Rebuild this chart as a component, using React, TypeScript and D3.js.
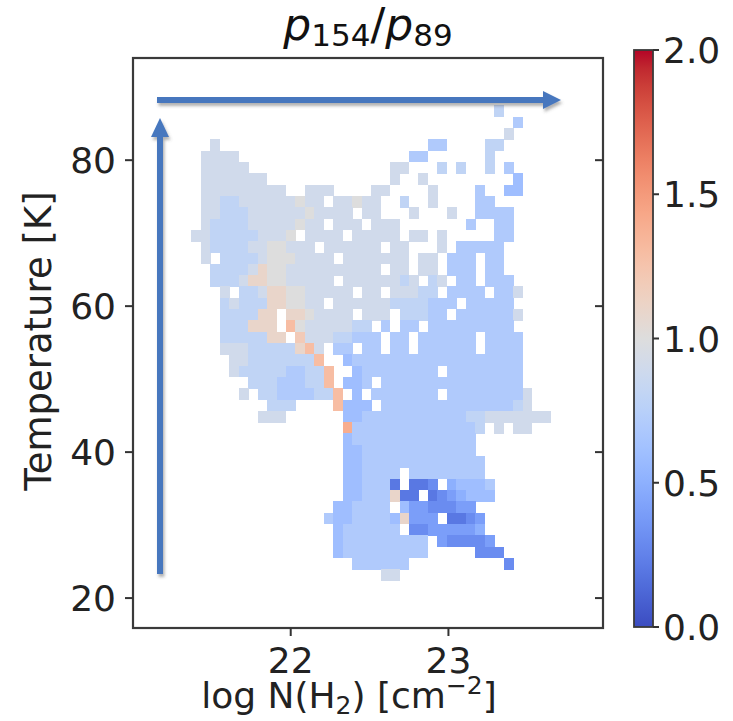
import React from 'react';
import * as d3 from 'd3';

// ---------- data ----------
const xTicks = [22, 23];
const yTicks = [20, 40, 60, 80];
const cbTicks = [0.0, 0.5, 1.0, 1.5, 2.0];
const cbTickLabels = ['0.0', '0.5', '1.0', '1.5', '2.0'];
const xDomain = [21.0, 23.98];
const yDomain = [15.9, 94.0];
const cbDomain = [0, 2];

// 2D-histogram bins (log N on x, T on y)
const binX0 = 21.37;
const binDX = 0.06;
const binYTop = 87.5;
const binDY = 1.55;

// value codes: a=0.0, b=0.1, ... k=1.0, ... u=2.0 ; '.' = empty
const valueCodes = 'abcdefghijklmnopqrstu';

// each row: "startColumn:codes" segments, row 0 at top
const heatRows = [
  '32:i',
  '34:h',
  '33:j',
  '2:j 25:hh 31:ii',
  '1:jjjj 23:hh 31:i',
  '1:jjjjj 21:jj 26:i 28:i 31:i 33:h',
  '1:jjjjjjj 21:j 24:j 34:g',
  '1:jjjjjjjjj 12:jjj 19:jj 25:j 30:h 33:gg',
  '1:jjiijjjjjjkjj.jjkjj 22:i 25:j 30:hh',
  '1:jjiiijjjjjjkjjjj.jj 23:j 27:j 30:hhhh',
  '1:jiiiijjjjjkjj.jjj.jjj 29:h 32:hh',
  '0:jjiiiiijjjk.jjjj.jjjjj 23:jj 26:j 32:hh',
  '1:jiiiijjkkjjj.jjjjjj.jj 26:j 28:hhhhh',
  '1:j.iiiijkkkjjjj.jjjjjjj 24:jj 27:hhh 31:hh',
  '2:iiiijlkkjjjjjjjjjj.jj.jj.hhh.hh',
  '2:iiijllkkjjjjj.jjjjjjij.ij.hh.hhh',
  '3:j.iijllkkjjjjj.jj.jjjii.hhhh.hhj',
  '3:ijiiillkkjj.jjjjjjiiiihhh.hhhhh',
  '3:iiiill.llkjjjj.jjj.iiihh.hhhhhhj',
  '3:iiilll.nkjjjjjii.h.hh.hhhhhhhhh',
  '3:iiiiill.mjjjiihhh.hh.hhhhhh.hhhh',
  '3:jjjiiiiilnj.hh.hh.hh.hhhhhh.hhhh',
  '4:jjiiiiiiin..ghhhhhhhhhhhhhhhhhh',
  '4:jiiiiihhiin..ghhhhhhhh.hhhhhhhh',
  '6:iiihhhiin.ggh.hhhhhhhhhhhhhhh',
  '5:j.iihhhhiin.g.hhhhhhh.hhhhhhhhj',
  '8:iii 15:nggg.hhhhhhhhhhhhhhij',
  '7:jjj 16:gghhhhhhhhhhhiijjjjjjj',
  '16:ohhhhhhhhhhhhhi.j.jj',
  '16:ghhhhhhhhhhhhh',
  '16:gghhhhhhhhhhhh',
  '16:gghhhhhhhhhhhhh',
  '16:gghhhh.hhhhhhhh',
  '16:gghhhc.ccd.fgggh',
  '16:gghhhlcc.cdefggg',
  '15:gghhhh.geedddee',
  '14:hgghhhhgleee.ccde',
  '15:ghhhhhh.ddeeeeef',
  '15:ghhhhhhhhh.edddde',
  '15:ghhhhhhhhh 30:ddd',
  '17:hhhhhh 33:d',
  '20:jj',
];

// matplotlib "coolwarm" colour table (33 samples)
const coolwarmStops: [number, number, number][] = [
  [59, 76, 192], [68, 90, 204], [77, 104, 215], [87, 117, 225], [98, 130, 234],
  [108, 142, 241], [119, 154, 247], [130, 165, 251], [141, 176, 254], [152, 185, 255],
  [163, 194, 255], [174, 201, 253], [184, 208, 249], [194, 213, 244], [204, 217, 238],
  [213, 219, 230], [221, 221, 221], [229, 216, 209], [236, 211, 197], [241, 204, 185],
  [245, 196, 173], [247, 187, 160], [247, 177, 148], [247, 166, 135], [244, 154, 123],
  [241, 141, 111], [236, 127, 99], [229, 112, 88], [222, 96, 77], [213, 80, 66],
  [203, 62, 56], [192, 40, 47], [180, 4, 38],
];

// ---------- layout ----------
const W = 733;
const H = 721;
const plot = { left: 133, right: 603, top: 58, bottom: 628 };
const cbar = { left: 634, right: 653, top: 50, bottom: 627 };
const FONT = 'DejaVu Sans, Verdana, sans-serif';
const ARROW = '#4677be';

export default function App() {
  const x = d3.scaleLinear().domain(xDomain).range([plot.left, plot.right]);
  const y = d3.scaleLinear().domain(yDomain).range([plot.bottom, plot.top]);
  const cbY = d3.scaleLinear().domain(cbDomain).range([cbar.bottom, cbar.top]);
  const stopColors = coolwarmStops.map(([r, g, b]) => `rgb(${r},${g},${b})`);
  const color = d3
    .scaleLinear<string>()
    .domain(coolwarmStops.map((_, i) => (i / (coolwarmStops.length - 1)) * (cbDomain[1] - cbDomain[0]) + cbDomain[0]))
    .range(stopColors)
    .interpolate(d3.interpolateRgb)
    .clamp(true);

  const cells: { r: number; c: number; v: number }[] = [];
  heatRows.forEach((row, r) => {
    row
      .split(' ')
      .filter(Boolean)
      .forEach((seg) => {
        const [s, codes] = seg.split(':');
        const start = +s;
        [...codes].forEach((ch, i) => {
          if (ch === '.') return;
          cells.push({ r, c: start + i, v: valueCodes.indexOf(ch) * 0.1 });
        });
      });
  });

  const tickFont = 36;
  const labelFont = 36;

  return (
    <svg
      width={W}
      height={H}
      viewBox={`0 0 ${W} ${H}`}
      style={{ position: 'absolute', left: 0, top: 0, background: '#fff' }}
    >
      <defs>
        <linearGradient id="cw" x1="0" y1="1" x2="0" y2="0">
          {stopColors.map((c, i) => (
            <stop key={i} offset={i / (stopColors.length - 1)} stopColor={c} />
          ))}
        </linearGradient>
        <filter id="shadow" x="-10%" y="-10%" width="130%" height="130%">
          <feDropShadow dx="1.5" dy="3" stdDeviation="1.6" floodColor="#555" floodOpacity="0.45" />
        </filter>
      </defs>

      {/* heatmap cells */}
      <g shapeRendering="crispEdges">
        {cells.map((d, i) => {
          const x0 = binX0 + d.c * binDX;
          const yT = binYTop - d.r * binDY;
          const px = x(x0);
          const py = y(yT);
          return (
            <rect
              key={i}
              x={px}
              y={py}
              width={x(x0 + binDX) - px + 0.4}
              height={y(yT - binDY) - py + 0.4}
              fill={color(d.v)}
            />
          );
        })}
      </g>

      {/* frame */}
      <rect
        x={plot.left}
        y={plot.top}
        width={plot.right - plot.left}
        height={plot.bottom - plot.top}
        fill="none"
        stroke="#3a3a3a"
        strokeWidth={2.2}
      />

      {/* y ticks */}
      {yTicks.map((t) => (
        <g key={'y' + t}>
          <line x1={plot.left - 8} x2={plot.left} y1={y(t)} y2={y(t)} stroke="#333" strokeWidth={2} />
          <line x1={plot.right - 8} x2={plot.right} y1={y(t)} y2={y(t)} stroke="#333" strokeWidth={2} />
          <text
            x={plot.left - 17}
            y={y(t) + 13}
            textAnchor="end"
            fontFamily={FONT}
            fontSize={tickFont}
            fill="#222"
          >
            {t}
          </text>
        </g>
      ))}

      {/* x ticks */}
      {xTicks.map((t) => (
        <g key={'x' + t}>
          <line x1={x(t)} x2={x(t)} y1={plot.bottom} y2={plot.bottom + 8} stroke="#333" strokeWidth={2} />
          <text x={x(t)} y={673} textAnchor="middle" fontFamily={FONT} fontSize={tickFont} fill="#222">
            {t}
          </text>
        </g>
      ))}

      {/* axis labels */}
      <text x={349} y={708} textAnchor="middle" fontFamily={FONT} fontSize={labelFont} fill="#222">
        log N(H
        <tspan fontSize={25} dy={6}>2</tspan>
        <tspan dy={-6}>) [cm</tspan>
        <tspan fontSize={25} dy={-14}>−2</tspan>
        <tspan dy={14}>]</tspan>
      </text>
      <text
        transform={`translate(51,${(plot.top + plot.bottom) / 2 - 2}) rotate(-90)`}
        textAnchor="middle"
        fontFamily={FONT}
        fontSize={37}
        fill="#222"
      >
        Temperature [K]
      </text>

      {/* title */}
      <text x={368} y={40} textAnchor="middle" fontFamily={FONT} fontSize={44} fill="#111">
        <tspan fontStyle="italic">p</tspan>
        <tspan fontSize={31} dy={6}>154</tspan>
        <tspan dy={-6}>/</tspan>
        <tspan fontStyle="italic">p</tspan>
        <tspan fontSize={31} dy={6}>89</tspan>
      </text>

      {/* colorbar */}
      <rect
        x={cbar.left}
        y={cbar.top}
        width={cbar.right - cbar.left}
        height={cbar.bottom - cbar.top}
        fill="url(#cw)"
        stroke="#3a3a3a"
        strokeWidth={1.8}
      />
      {cbTicks.map((t, i) => (
        <g key={'c' + t}>
          <line x1={cbar.right} x2={cbar.right + 6} y1={cbY(t)} y2={cbY(t)} stroke="#333" strokeWidth={2} />
          <text x={cbar.right + 10} y={cbY(t) + 13} fontFamily={FONT} fontSize={tickFont} fill="#222">
            {cbTickLabels[i]}
          </text>
        </g>
      ))}

      {/* annotation arrows */}
      <g filter="url(#shadow)">
        <line x1={157} x2={546} y1={100} y2={100} stroke={ARROW} strokeWidth={6} />
        <polygon points="543,91 561,100 543,109" fill={ARROW} />
        <line x1={160} x2={160} y1={574} y2={134} stroke={ARROW} strokeWidth={6} />
        <polygon points="151,137 160,118 169,137" fill={ARROW} />
      </g>
    </svg>
  );
}
